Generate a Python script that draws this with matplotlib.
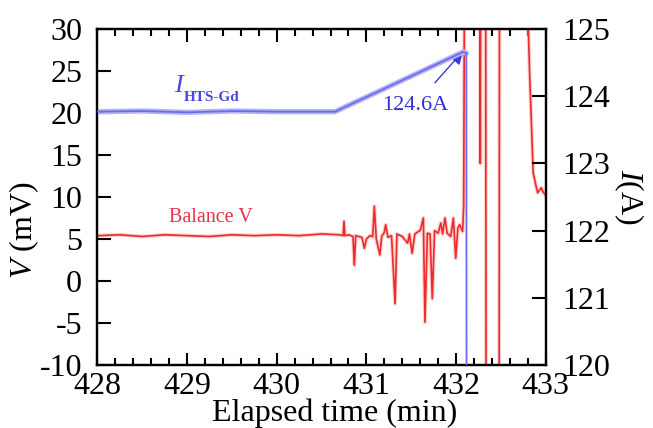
import matplotlib
matplotlib.use("Agg")
import matplotlib.pyplot as plt
from matplotlib.ticker import MultipleLocator

plt.rcParams['font.family'] = ['Liberation Serif', 'DejaVu Serif']
plt.rcParams['mathtext.fontset'] = 'custom'
plt.rcParams['mathtext.rm'] = 'Liberation Serif'
plt.rcParams['mathtext.it'] = 'Liberation Serif:italic'
plt.rcParams['mathtext.bf'] = 'Liberation Serif:bold'
plt.rcParams['axes.unicode_minus'] = False

# ---- data ----
# Balance voltage (mV), left axis; values beyond the axis range are off-scale
v_time = [428.0, 428.25, 428.5, 428.75, 429.0, 429.25, 429.5, 429.75, 430.0, 430.25,
          430.5, 430.7, 430.74, 430.75, 430.76, 430.8, 430.85, 430.865, 430.88, 430.95,
          430.977, 431.0, 431.04, 431.07, 431.088, 431.11, 431.15, 431.17, 431.2, 431.215,
          431.24, 431.28, 431.32, 431.34, 431.4, 431.46, 431.48, 431.51, 431.54, 431.58,
          431.6, 431.635, 431.653, 431.68, 431.71, 431.735, 431.76, 431.8, 431.83, 431.85,
          431.876, 431.9, 431.94, 431.97, 431.996, 432.02, 432.04, 432.073, 432.085, 432.095,
          432.265, 432.27, 432.275, 432.33, 432.335, 432.48, 432.485, 432.80, 432.807, 432.82,
          432.86, 432.89, 432.91, 432.95, 432.97, 433.0]
v_mv = [5.4, 5.5, 5.3, 5.5, 5.4, 5.3, 5.5, 5.4, 5.5, 5.4,
        5.6, 5.5, 5.4, 7.1, 5.4, 5.5, 5.3, 1.9, 5.4, 5.2,
        3.9, 5.0, 5.4, 5.3, 8.9, 5.0, 3.1, 5.3, 5.8, 6.7,
        5.2, 5.4, -2.7, 5.6, 5.3, 4.5, 5.6, 3.3, 5.6, 5.9,
        6.0, 7.5, -4.9, 5.7, 5.6, -2.1, 6.0, 5.7, 6.9, 5.6,
        7.5, 5.7, 5.3, 7.5, 2.7, 6.3, 6.7, 5.9, 9.0, 40.0,
        40.0, 14.0, 40.0, 40.0, -20.0, -20.0, 40.0, 40.0, 29.7, 24.9,
        12.9, 11.4, 10.5, 11.1, 10.6, 10.2]

# HTS-Gd current (A), right axis
i_time = [428.0, 428.5, 429.0, 429.5, 430.0, 430.5, 430.65, 432.08, 432.115, 432.12]
i_amp = [123.77, 123.78, 123.76, 123.78, 123.77, 123.77, 123.77, 124.66, 124.64, 110.0]

x_ticks = [428, 429, 430, 431, 432, 433]
v_ticks = [-10, -5, 0, 5, 10, 15, 20, 25, 30]
i_ticks = [120, 121, 122, 123, 124, 125]

FS = 23
fig = plt.figure(figsize=(6.53, 4.28), dpi=100)
ax = fig.add_axes([0.1493, 0.1472, 0.6864, 0.785])
ax2 = ax.twinx()

# red balance voltage (halo + core)
ax.plot(v_time, v_mv, color='#f6a8a8', lw=2.8, alpha=0.55, zorder=2)
ax.plot(v_time, v_mv, color='#ee2a2a', lw=1.2, zorder=3)

# blue current: thick light trace for the plateau and ramp, thin saturated core
ax2.plot(i_time[:-1], i_amp[:-1], color='#b4b4f4', lw=3.8, zorder=2,
         solid_joinstyle='round', solid_capstyle='round')
ax2.plot(i_time, i_amp, color='#6a6af2', lw=1.3, zorder=3)

ax.set_xlim(428, 433)
ax.set_ylim(-10, 30)
ax2.set_ylim(120, 125)
ax.set_xticks(x_ticks)
ax.set_yticks(v_ticks)
ax2.set_yticks(i_ticks)
ax.xaxis.set_minor_locator(MultipleLocator(0.2))

ax.tick_params(axis='both', which='both', direction='in', top=True, right=False,
               labelsize=FS, width=1.5)
ax.tick_params(axis='x', which='major', length=9, pad=5)
ax.tick_params(axis='x', which='minor', length=5)
ax.tick_params(axis='y', which='major', length=10, pad=11)
ax2.tick_params(axis='y', which='major', direction='in', length=10, width=1.5,
                labelsize=FS, pad=12)
for a in (ax, ax2):
    for s in a.spines.values():
        s.set_linewidth(1.6)

ax.set_xlabel('Elapsed time (min)', fontsize=FS)
ax.xaxis.set_label_coords(0.528, -0.10)
ax.set_ylabel(r'$\mathit{V}$ (mV)', fontsize=FS)
ax.yaxis.set_label_coords(-0.125, 0.40)
ax2.set_ylabel(r'$\mathit{I}$(A)', fontsize=FS, rotation=270, va='center')
ax2.yaxis.set_label_coords(1.185, 0.50)

# annotations
ax.text(428.86, 23.2, 'I', color='#4848e0', fontsize=19, style='italic',
        ha='left', va='center')
ax.text(428.96, 21.8, 'HTS-Gd', color='#4848e0', fontsize=11, fontweight='bold',
        ha='left', va='center')
ax.text(429.26, 7.6, 'Balance V', color='#e8304a', fontsize=14.5, ha='center', va='center')
ax.annotate('124.6A', xy=(432.08, 27.4), xytext=(431.54, 20.9), color='#3030d8',
            fontsize=16, ha='center', va='center',
            arrowprops=dict(arrowstyle='-|>', color='#3a3ae0', lw=1.0,
                            mutation_scale=20, shrinkA=10, shrinkB=0))

fig.savefig('out.png', dpi=100)
